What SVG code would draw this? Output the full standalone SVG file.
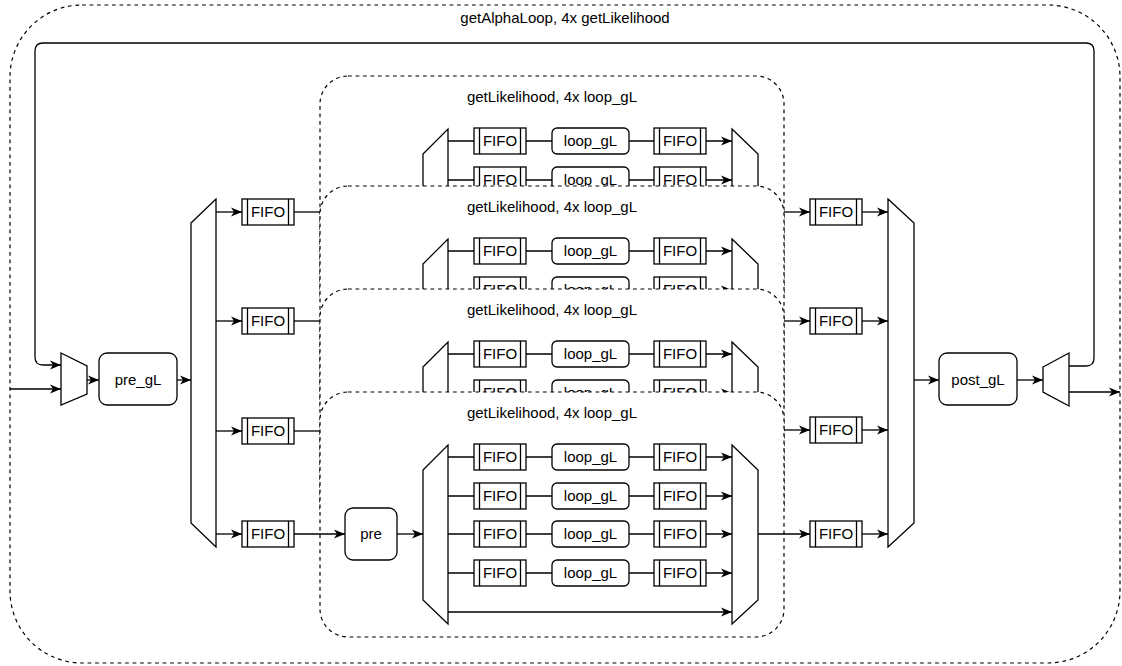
<svg xmlns="http://www.w3.org/2000/svg" xmlns:xlink="http://www.w3.org/1999/xlink" width="1122" height="666" viewBox="0 0 1122 666">
  <defs>
    <style>
      .frame { fill: none; stroke: #000; stroke-width: 1.2; stroke-dasharray: 3.75 3.75; }
      .module { fill: #fff; stroke: #000; stroke-width: 1.2; stroke-dasharray: 3.75 3.75; }
      .node { fill: #fff; stroke: #000; stroke-width: 1.3; }
      .wire { fill: none; stroke: #000; stroke-width: 1.3; }
      .arrow { marker-end: url(#head); }
      text { font-family: "Liberation Sans", Arial, sans-serif; font-size: 15px; fill: #000; text-anchor: middle; }
    </style>
    <marker id="head" markerUnits="userSpaceOnUse" markerWidth="12" markerHeight="10" refX="11" refY="4.5" orient="auto" overflow="visible">
      <path d="M0,0 L11,4.5 L0,9 L3,4.5 Z" fill="#000" stroke="none"/>
    </marker>
    <!-- FIFO process block: 52x26 with two side bars -->
    <g id="fifoShape">
      <rect class="node" x="0" y="0" width="52" height="26"/>
      <line class="wire" x1="5.5" y1="0" x2="5.5" y2="26"/>
      <line class="wire" x1="46.5" y1="0" x2="46.5" y2="26"/>
    </g>
  </defs>

  <!-- outer loop frame -->
  <g id="getAlphaLoop">
    <rect class="frame" x="10" y="5" width="1110" height="658" rx="72" ry="72"/>
    <text x="565" y="23">getAlphaLoop, 4x getLikelihood</text>
  </g>

  <!-- top-level nodes -->
  <g id="mux_in">
    <polygon class="node" points="61,353 87,366 87,394 61,405"/>
  </g>
  <g id="pre_gL">
    <rect class="node" x="99" y="353" width="78" height="52" rx="8" ry="8"/>
    <text x="138" y="385">pre_gL</text>
  </g>
  <g id="demux_split">
    <polygon class="node" points="191,223 216,199 216,547 191,523"/>
  </g>
  <g id="fifo_in_1"><use xlink:href="#fifoShape" x="242" y="199"/><text x="268" y="217">FIFO</text></g>
  <g id="fifo_in_2"><use xlink:href="#fifoShape" x="242" y="308"/><text x="268" y="326">FIFO</text></g>
  <g id="fifo_in_3"><use xlink:href="#fifoShape" x="242" y="418"/><text x="268" y="436">FIFO</text></g>
  <g id="fifo_in_4"><use xlink:href="#fifoShape" x="242" y="521"/><text x="268" y="539">FIFO</text></g>

  <g id="fifo_out_1"><use xlink:href="#fifoShape" x="810" y="199"/><text x="836" y="217">FIFO</text></g>
  <g id="fifo_out_2"><use xlink:href="#fifoShape" x="810" y="308"/><text x="836" y="326">FIFO</text></g>
  <g id="fifo_out_3"><use xlink:href="#fifoShape" x="810" y="417"/><text x="836" y="435">FIFO</text></g>
  <g id="fifo_out_4"><use xlink:href="#fifoShape" x="810" y="521"/><text x="836" y="539">FIFO</text></g>
  <g id="mux_join">
    <polygon class="node" points="888,199 914,223 914,523 888,547"/>
  </g>
  <g id="post_gL">
    <rect class="node" x="939" y="353" width="78" height="52" rx="8" ry="8"/>
    <text x="978" y="385">post_gL</text>
  </g>
  <g id="demux_out">
    <polygon class="node" points="1043,367 1069,353 1069,406 1043,392"/>
  </g>

  <!-- getLikelihood instances, stacked; each one hides the lower part of the previous -->
  <g id="getLikelihood_1" transform="translate(0,76)">
    <rect class="module" x="320" y="0" width="464" height="245" rx="28" ry="28"/>
    <text x="552" y="26">getLikelihood, 4x loop_gL</text>
    <g class="edges">
      <path class="wire arrow" d="M448,65 H474 M526,65 H552 M629,65 H654 M706,65 H732"/>
      <path class="wire arrow" d="M448,104 H474 M526,104 H552 M629,104 H654 M706,104 H732"/>
    </g>
    <polygon class="node" points="423,78 448,53 448,232 423,208"/>
    <polygon class="node" points="732,53 758,78 758,208 732,232"/>
    <use xlink:href="#fifoShape" x="474" y="52"/><text x="500" y="70">FIFO</text>
    <rect class="node" x="552" y="52" width="77" height="26" rx="5" ry="5"/><text x="590.5" y="70">loop_gL</text>
    <use xlink:href="#fifoShape" x="654" y="52"/><text x="680" y="70">FIFO</text>
    <use xlink:href="#fifoShape" x="474" y="91"/><text x="500" y="109">FIFO</text>
    <rect class="node" x="552" y="91" width="77" height="26" rx="5" ry="5"/><text x="590.5" y="109">loop_gL</text>
    <use xlink:href="#fifoShape" x="654" y="91"/><text x="680" y="109">FIFO</text>
  </g>

  <g id="getLikelihood_2" transform="translate(0,186)">
    <rect class="module" x="320" y="0" width="464" height="245" rx="28" ry="28"/>
    <text x="552" y="26">getLikelihood, 4x loop_gL</text>
    <g class="edges">
      <path class="wire arrow" d="M448,65 H474 M526,65 H552 M629,65 H654 M706,65 H732"/>
      <path class="wire arrow" d="M448,104 H474 M526,104 H552 M629,104 H654 M706,104 H732"/>
    </g>
    <polygon class="node" points="423,78 448,53 448,232 423,208"/>
    <polygon class="node" points="732,53 758,78 758,208 732,232"/>
    <use xlink:href="#fifoShape" x="474" y="52"/><text x="500" y="70">FIFO</text>
    <rect class="node" x="552" y="52" width="77" height="26" rx="5" ry="5"/><text x="590.5" y="70">loop_gL</text>
    <use xlink:href="#fifoShape" x="654" y="52"/><text x="680" y="70">FIFO</text>
    <use xlink:href="#fifoShape" x="474" y="91"/><text x="500" y="109">FIFO</text>
    <rect class="node" x="552" y="91" width="77" height="26" rx="5" ry="5"/><text x="590.5" y="109">loop_gL</text>
    <use xlink:href="#fifoShape" x="654" y="91"/><text x="680" y="109">FIFO</text>
  </g>

  <g id="getLikelihood_3" transform="translate(0,289)">
    <rect class="module" x="320" y="0" width="464" height="245" rx="28" ry="28"/>
    <text x="552" y="26">getLikelihood, 4x loop_gL</text>
    <g class="edges">
      <path class="wire arrow" d="M448,65 H474 M526,65 H552 M629,65 H654 M706,65 H732"/>
      <path class="wire arrow" d="M448,104 H474 M526,104 H552 M629,104 H654 M706,104 H732"/>
    </g>
    <polygon class="node" points="423,78 448,53 448,232 423,208"/>
    <polygon class="node" points="732,53 758,78 758,208 732,232"/>
    <use xlink:href="#fifoShape" x="474" y="52"/><text x="500" y="70">FIFO</text>
    <rect class="node" x="552" y="52" width="77" height="26" rx="5" ry="5"/><text x="590.5" y="70">loop_gL</text>
    <use xlink:href="#fifoShape" x="654" y="52"/><text x="680" y="70">FIFO</text>
    <use xlink:href="#fifoShape" x="474" y="91"/><text x="500" y="109">FIFO</text>
    <rect class="node" x="552" y="91" width="77" height="26" rx="5" ry="5"/><text x="590.5" y="109">loop_gL</text>
    <use xlink:href="#fifoShape" x="654" y="91"/><text x="680" y="109">FIFO</text>
  </g>

  <g id="getLikelihood_4" transform="translate(0,392)">
    <rect class="module" x="320" y="0" width="464" height="245" rx="28" ry="28"/>
    <text x="552" y="26">getLikelihood, 4x loop_gL</text>
    <g class="edges">
      <path class="wire arrow" d="M397,142 H423"/>
      <path class="wire arrow" d="M448,65 H474 M526,65 H552 M629,65 H654 M706,65 H732"/>
      <path class="wire arrow" d="M448,104 H474 M526,104 H552 M629,104 H654 M706,104 H732"/>
      <path class="wire arrow" d="M448,142 H474 M526,142 H552 M629,142 H654 M706,142 H732"/>
      <path class="wire arrow" d="M448,181 H474 M526,181 H552 M629,181 H654 M706,181 H732"/>
      <path class="wire arrow" d="M448,220 H732"/>
    </g>
    <rect class="node" x="345" y="116" width="52" height="52" rx="8" ry="8"/><text x="371" y="147">pre</text>
    <polygon class="node" points="423,78 448,53 448,232 423,208"/>
    <polygon class="node" points="732,53 758,78 758,208 732,232"/>
    <use xlink:href="#fifoShape" x="474" y="52"/><text x="500" y="70">FIFO</text>
    <rect class="node" x="552" y="52" width="77" height="26" rx="5" ry="5"/><text x="590.5" y="70">loop_gL</text>
    <use xlink:href="#fifoShape" x="654" y="52"/><text x="680" y="70">FIFO</text>
    <use xlink:href="#fifoShape" x="474" y="91"/><text x="500" y="109">FIFO</text>
    <rect class="node" x="552" y="91" width="77" height="26" rx="5" ry="5"/><text x="590.5" y="109">loop_gL</text>
    <use xlink:href="#fifoShape" x="654" y="91"/><text x="680" y="109">FIFO</text>
    <use xlink:href="#fifoShape" x="474" y="129"/><text x="500" y="147">FIFO</text>
    <rect class="node" x="552" y="129" width="77" height="26" rx="5" ry="5"/><text x="590.5" y="147">loop_gL</text>
    <use xlink:href="#fifoShape" x="654" y="129"/><text x="680" y="147">FIFO</text>
    <use xlink:href="#fifoShape" x="474" y="168"/><text x="500" y="186">FIFO</text>
    <rect class="node" x="552" y="168" width="77" height="26" rx="5" ry="5"/><text x="590.5" y="186">loop_gL</text>
    <use xlink:href="#fifoShape" x="654" y="168"/><text x="680" y="186">FIFO</text>
  </g>

  <!-- top-level connectors -->
  <g id="connectors">
    <path class="wire arrow" d="M10,389 H61"/>
    <path class="wire arrow" d="M1069,366 H1086 Q1094,366 1094,358 V51 Q1094,43 1086,43 H43 Q35,43 35,51 V357 Q35,365 43,365 H61"/>
    <path class="wire arrow" d="M1069,392 H1120"/>
    <path class="wire arrow" d="M87,380 H99"/>
    <path class="wire arrow" d="M177,380 H191"/>
    <path class="wire arrow" d="M216,212 H242"/>
    <path class="wire arrow" d="M216,321 H242"/>
    <path class="wire arrow" d="M216,431 H242"/>
    <path class="wire arrow" d="M216,534 H242"/>
    <path class="wire" d="M294,212 H320"/>
    <path class="wire" d="M294,321 H320"/>
    <path class="wire" d="M294,431 H320"/>
    <path class="wire arrow" d="M294,534 H345"/>
    <path class="wire arrow" d="M784,212 H810"/>
    <path class="wire arrow" d="M784,321 H810"/>
    <path class="wire arrow" d="M784,430 H810"/>
    <path class="wire arrow" d="M758,534 H810"/>
    <path class="wire arrow" d="M862,212 H888"/>
    <path class="wire arrow" d="M862,321 H888"/>
    <path class="wire arrow" d="M862,430 H888"/>
    <path class="wire arrow" d="M862,534 H888"/>
    <path class="wire arrow" d="M914,380 H939"/>
    <path class="wire arrow" d="M1017,380 H1043"/>
  </g>
</svg>
